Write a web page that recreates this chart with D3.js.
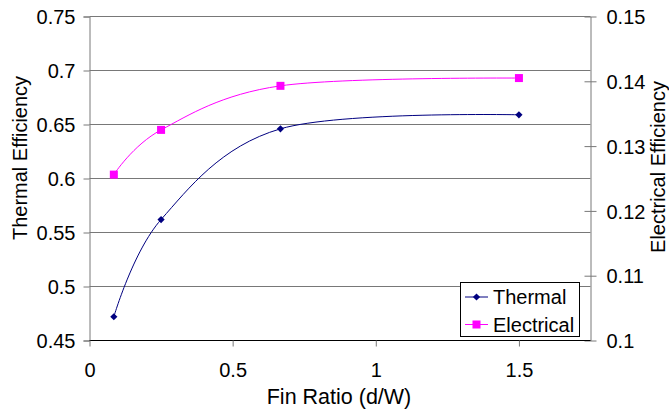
<!DOCTYPE html>
<html><head><meta charset="utf-8">
<script src="https://cdn.jsdelivr.net/npm/d3@7"></script>
<style>body{margin:0;background:#fff}svg{display:block}text{font-family:"Liberation Sans",Arial,sans-serif;fill:#000}</style>
</head><body>
<svg id="c" width="669" height="409"></svg>
<script>
const finRatio = [0.085, 0.25, 0.667, 1.5];
const thermal = [0.472, 0.562, 0.646, 0.659];
const electrical = [0.1256, 0.1325, 0.1393, 0.1405];
const xTicks = [0, 0.5, 1, 1.5];
const leftTicks = [0.45, 0.5, 0.55, 0.6, 0.65, 0.7, 0.75];
const rightTicks = [0.1, 0.11, 0.12, 0.13, 0.14, 0.15];
const seriesNames = ["Thermal", "Electrical"];

const svg = d3.select("#c");
const L = 89.5, R = 590.5, T = 16.5, B = 340.5;
const x = d3.scaleLinear().domain([0, 1.75]).range([L, R]);
const yL = d3.scaleLinear().domain([0.45, 0.75]).range([B, T]);
const yR = d3.scaleLinear().domain([0.1, 0.15]).range([B, T]);
const fs = 20;

// gridlines
svg.append("g").selectAll("line").data(leftTicks.slice(1)).join("line")
  .attr("x1", L).attr("x2", R).attr("y1", d => yL(d)).attr("y2", d => yL(d))
  .attr("stroke", "#787878").attr("stroke-width", 1);

// left axis
const gL = svg.append("g").attr("transform", `translate(${L},0)`)
  .call(d3.axisLeft(yL).tickValues(leftTicks).tickSize(6).tickPadding(8).tickFormat(d => String(+d.toFixed(2))));
gL.select(".domain").attr("stroke", "#787878");
gL.selectAll(".tick line").attr("stroke", "#787878");
gL.selectAll("text").attr("font-size", fs).attr("font-family", "Liberation Sans").attr("dy", "0.36em");

// right axis
const gR = svg.append("g").attr("transform", `translate(${R},0)`)
  .call(d3.axisRight(yR).tickValues(rightTicks).tickSizeInner(6).tickSizeOuter(0).tickPadding(10).tickFormat(d => String(+d.toFixed(2))));
gR.select(".domain").attr("stroke", "#787878");
gR.selectAll(".tick line").attr("stroke", "#787878").attr("x1", -6).attr("x2", 6);
gR.selectAll("text").attr("font-size", fs).attr("font-family", "Liberation Sans").attr("dy", "0.36em");

// bottom axis
const gB = svg.append("g").attr("transform", `translate(0,${B})`)
  .call(d3.axisBottom(x).tickValues(xTicks).tickSize(6).tickPadding(16).tickFormat(d => String(d)));
gB.select(".domain").attr("stroke", "#000").attr("d", `M${L},0H${R}`);
gB.selectAll(".tick line").attr("stroke", "#787878");
gB.selectAll("text").attr("font-size", fs).attr("font-family", "Liberation Sans");

// axis titles
svg.append("text").attr("x", 339).attr("y", 404).attr("text-anchor", "middle")
  .attr("font-size", 21.5).text("Fin Ratio (d/W)");
svg.append("text").attr("transform", "translate(27,158) rotate(-90)").attr("text-anchor", "middle")
  .attr("font-size", fs).text("Thermal Efficiency");
svg.append("text").attr("transform", "translate(665,167) rotate(-90)").attr("text-anchor", "middle")
  .attr("font-size", fs).text("Electrical Efficiency");

// lines
const curve = d3.curveCardinal.tension(0);
const lineT = d3.line().x((d, i) => x(finRatio[i])).y(d => yL(d)).curve(curve);
const lineE = d3.line().x((d, i) => x(finRatio[i])).y(d => yR(d)).curve(curve);
svg.append("path").attr("d", lineT(thermal)).attr("fill", "none").attr("stroke", "#000080").attr("stroke-width", 1);
svg.append("path").attr("d", lineE(electrical)).attr("fill", "none").attr("stroke", "#ff00ff").attr("stroke-width", 1);

const diamond = d3.symbol().type(d3.symbolSquare).size(26);
svg.append("g").selectAll("path").data(thermal).join("path")
  .attr("d", diamond)
  .attr("transform", (d, i) => `translate(${x(finRatio[i])},${yL(d)}) rotate(45)`)
  .attr("fill", "#000080");
svg.append("g").selectAll("rect").data(electrical).join("rect")
  .attr("x", (d, i) => x(finRatio[i]) - 4).attr("y", d => yR(d) - 4)
  .attr("width", 8).attr("height", 8).attr("fill", "#ff00ff");

// legend
const lg = svg.append("g");
lg.append("rect").attr("x", 460.5).attr("y", 282.5).attr("width", 119).attr("height", 54)
  .attr("fill", "#fff").attr("stroke", "#000");
const ly = [297, 324.5];
const colors = ["#000080", "#ff00ff"];
seriesNames.forEach((n, i) => {
  lg.append("line").attr("x1", 465).attr("x2", 488).attr("y1", ly[i]).attr("y2", ly[i]).attr("stroke", colors[i]);
  if (i === 0) lg.append("path").attr("d", diamond).attr("transform", `translate(476.5,${ly[i]}) rotate(45)`).attr("fill", colors[i]);
  else lg.append("rect").attr("x", 472.5).attr("y", ly[i] - 4).attr("width", 8).attr("height", 8).attr("fill", colors[i]);
  lg.append("text").attr("x", 493).attr("y", ly[i]).attr("dy", "0.36em").attr("font-size", fs).text(n);
});
</script>
</body></html>
